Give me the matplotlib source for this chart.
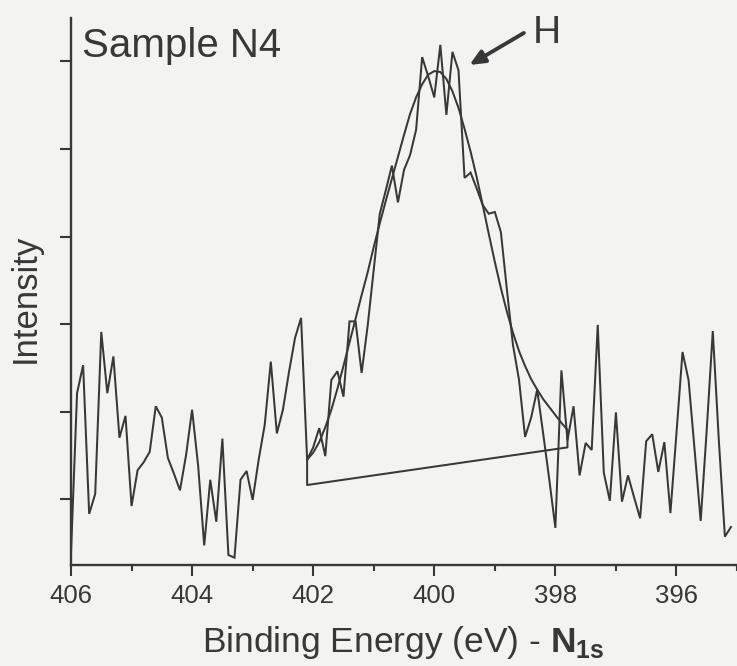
import numpy as np
import matplotlib
matplotlib.use("Agg")
import matplotlib.pyplot as plt

# N 1s core-level spectrum, 0.1 eV steps from 406.0 eV downwards
raw_counts = [
    1038, 1221, 1253, 1083, 1106, 1291, 1221, 1263, 1170, 1195,
    1092, 1133, 1142, 1154, 1206, 1193, 1147, 1129, 1110, 1150,
    1202, 1138, 1047, 1122, 1074, 1169, 1036, 1033, 1122, 1132,
    1099, 1145, 1185, 1257, 1175, 1202, 1245, 1284, 1307, 1145,
    1159, 1181, 1149, 1236, 1246, 1217, 1303, 1303, 1244, 1298,
    1362, 1426, 1453, 1481, 1439, 1476, 1493, 1522, 1605, 1583,
    1559, 1619, 1539, 1611, 1590, 1467, 1473, 1455, 1436, 1426,
    1428, 1405, 1339, 1276, 1236, 1171, 1193, 1225, 1174, 1122,
    1067, 1247, 1167, 1206, 1127, 1164, 1156, 1299, 1130, 1098,
    1199, 1097, 1127, 1102, 1078, 1166, 1174, 1131, 1165, 1084,
    1175, 1268, 1236, 1156, 1075, 1179, 1292, 1167, 1057, 1068,
]
start_energy = 406.0
step_energy = 0.1

# Fitted envelope (peak + background) over the fitting region 402.1 -> 397.8 eV
fit_start = 402.1
fit_counts = [
    1145, 1153, 1165, 1182, 1202, 1226, 1252, 1279, 1306, 1333,
    1359, 1388, 1415, 1441, 1466, 1491, 1516, 1540, 1559, 1574,
    1585, 1589, 1588, 1580, 1566, 1547, 1523, 1497, 1468, 1436,
    1403, 1371, 1341, 1314, 1290, 1269, 1252, 1237, 1225, 1214,
    1205, 1196, 1187, 1179,
]
# Linear background end points (high-BE side, low-BE side)
bg_counts = [1116, 1159]

x_ticks = [406, 404, 402, 400, 398, 396]
y_ticks = [1100, 1200, 1300, 1400, 1500, 1600]

INK = "#383838"
PAPER = "#f3f3f2"

plt.rcParams["font.family"] = ["Liberation Sans", "DejaVu Sans"]
plt.rcParams["mathtext.fontset"] = "custom"
plt.rcParams["mathtext.rm"] = "Liberation Sans"
plt.rcParams["mathtext.bf"] = "Liberation Sans:bold"
plt.rcParams["text.color"] = INK

energy = np.round(start_energy - step_energy * np.arange(len(raw_counts)), 2)
fit_energy = np.round(fit_start - step_energy * np.arange(len(fit_counts)), 2)

fig = plt.figure(figsize=(7.37, 6.66), dpi=100, facecolor=PAPER)
ax = fig.add_axes([71 / 737, 101 / 666, 666 / 737, 547 / 666])
ax.set_facecolor("none")

ax.plot(energy, raw_counts, color=INK, lw=1.45, solid_joinstyle="miter")

# envelope closed by the background line
env_x = np.r_[fit_energy, fit_energy[-1], fit_energy[0], fit_energy[0]]
env_y = np.r_[fit_counts, bg_counts[1], bg_counts[0], fit_counts[0]]
ax.plot(env_x, env_y, color=INK, lw=1.45)

ax.set_xlim(406.0, 395.1)
ax.set_ylim(1024.6, 1649.7)

for side in ("top", "right"):
    ax.spines[side].set_visible(False)
for side in ("left", "bottom"):
    ax.spines[side].set_linewidth(1.7)
    ax.spines[side].set_color(INK)

ax.set_xticks(x_ticks)
ax.set_xticklabels([str(t) for t in x_ticks])
ax.set_xticks(np.arange(405, 394, -2), minor=True)
ax.set_yticks(y_ticks)
ax.set_yticklabels([])
ax.tick_params(axis="both", which="major", direction="out", length=8,
               width=1.5, color=INK, labelsize=18.5, labelcolor=INK, pad=6)
ax.tick_params(axis="x", which="minor", direction="out", length=4,
               width=1.5, color=INK)

ax.text(405.82, 1605, "Sample N4", fontsize=29, ha="left", va="baseline")
ax.text(398.37, 1621, "H", fontsize=28, ha="left", va="baseline", clip_on=False)
ax.annotate("", xy=(399.42, 1596), xytext=(398.52, 1632.6),
            arrowprops=dict(arrowstyle="-|>,head_length=0.9,head_width=0.4",
                            lw=2.8, color=INK, shrinkA=0, shrinkB=0),
            annotation_clip=False)

fig.text(403 / 737, 14 / 666, r"Binding Energy (eV) - $\mathbf{N}_{\mathbf{1s}}$",
         fontsize=25.5, ha="center", va="baseline")
fig.text(25 / 737, (666 - 298) / 666, "Intensity", fontsize=25,
         rotation=90, ha="center", va="center")

fig.savefig("out.png", dpi=100, facecolor=PAPER)
